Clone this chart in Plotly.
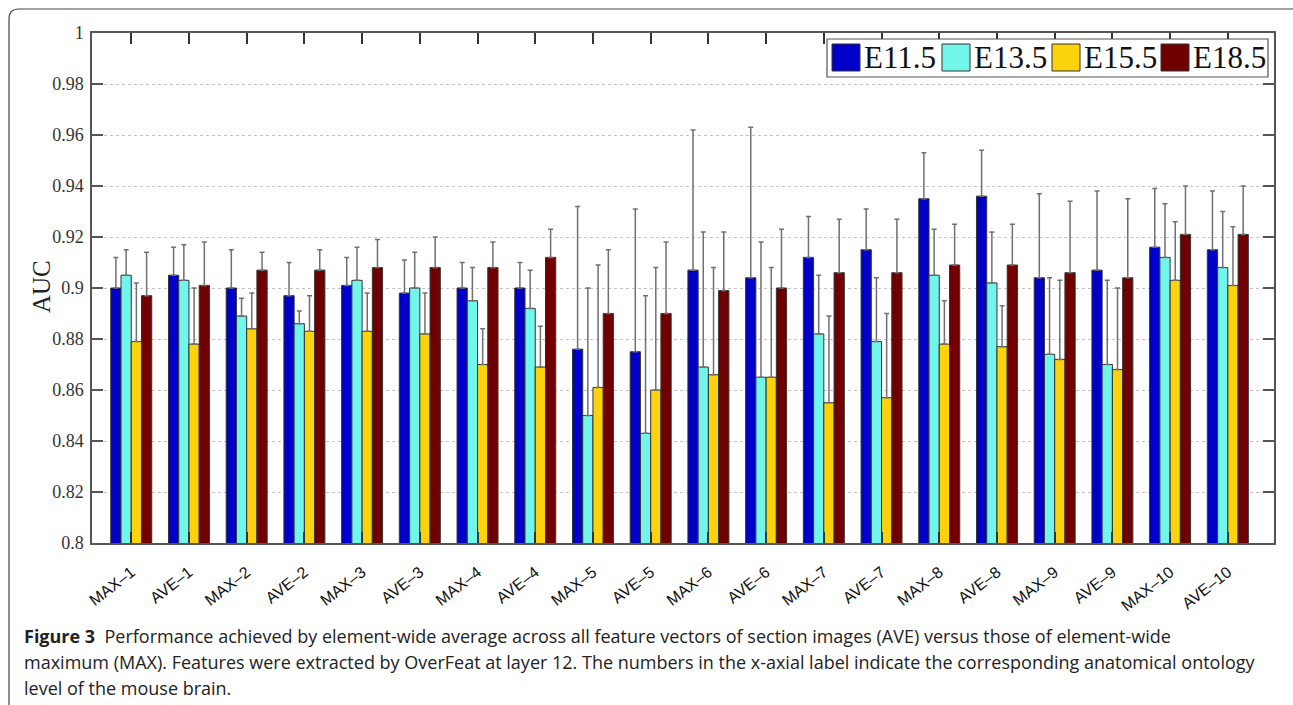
import plotly.graph_objects as go

categories = ["MAX–1", "AVE–1", "MAX–2", "AVE–2", "MAX–3", "AVE–3", "MAX–4", "AVE–4",
              "MAX–5", "AVE–5", "MAX–6", "AVE–6", "MAX–7", "AVE–7", "MAX–8", "AVE–8",
              "MAX–9", "AVE–9", "MAX–10", "AVE–10"]

series_names = ["E11.5", "E13.5", "E15.5", "E18.5"]

auc_e115 = [0.900, 0.905, 0.900, 0.897, 0.901, 0.898, 0.900, 0.900, 0.876, 0.875,
            0.907, 0.904, 0.912, 0.915, 0.935, 0.936, 0.904, 0.907, 0.916, 0.915]
auc_e135 = [0.905, 0.903, 0.889, 0.886, 0.903, 0.900, 0.895, 0.892, 0.850, 0.843,
            0.869, 0.865, 0.882, 0.879, 0.905, 0.902, 0.874, 0.870, 0.912, 0.908]
auc_e155 = [0.879, 0.878, 0.884, 0.883, 0.883, 0.882, 0.870, 0.869, 0.861, 0.860,
            0.866, 0.865, 0.855, 0.857, 0.878, 0.877, 0.872, 0.868, 0.903, 0.901]
auc_e185 = [0.897, 0.901, 0.907, 0.907, 0.908, 0.908, 0.908, 0.912, 0.890, 0.890,
            0.899, 0.900, 0.906, 0.906, 0.909, 0.909, 0.906, 0.904, 0.921, 0.921]

err_e115 = [0.012, 0.011, 0.015, 0.013, 0.011, 0.013, 0.010, 0.010, 0.056, 0.056,
            0.055, 0.059, 0.016, 0.016, 0.018, 0.018, 0.033, 0.031, 0.023, 0.023]
err_e135 = [0.010, 0.014, 0.007, 0.005, 0.013, 0.014, 0.013, 0.015, 0.050, 0.054,
            0.053, 0.053, 0.023, 0.025, 0.018, 0.020, 0.030, 0.033, 0.021, 0.022]
err_e155 = [0.023, 0.022, 0.014, 0.014, 0.015, 0.016, 0.014, 0.016, 0.048, 0.048,
            0.042, 0.043, 0.034, 0.033, 0.017, 0.016, 0.031, 0.032, 0.023, 0.023]
err_e185 = [0.017, 0.017, 0.007, 0.008, 0.011, 0.012, 0.010, 0.011, 0.025, 0.028,
            0.023, 0.023, 0.021, 0.021, 0.016, 0.016, 0.028, 0.031, 0.019, 0.019]

y_tickvals = [0.8, 0.82, 0.84, 0.86, 0.88, 0.9, 0.92, 0.94, 0.96, 0.98, 1.0]
y_ticktext = ["0.8", "0.82", "0.84", "0.86", "0.88", "0.9", "0.92", "0.94", "0.96", "0.98", "1"]

caption_lines = [
    "<b>Figure 3</b>  Performance achieved by element-wide average across all feature vectors of section images (AVE) versus those of element-wide",
    "maximum (MAX). Features were extracted by OverFeat at layer 12. The numbers in the x-axial label indicate the corresponding anatomical ontology",
    "level of the mouse brain.",
]

colors = ["#0000C8", "#72F5EA", "#FCD20C", "#700000"]
values = [auc_e115, auc_e135, auc_e155, auc_e185]
errors = [err_e115, err_e135, err_e155, err_e185]

W, H = 1293, 705
L, R, T, B = 92, 19, 33, 162
PW, PH = W - L - R, H - T - B


def px(xp):
    return (xp - L) / PW


def py(yp):
    return (H - B - yp) / PH


fig = go.Figure()
for name, vals, errs, col in zip(series_names, values, errors, colors):
    fig.add_trace(go.Bar(
        x=categories, y=vals, name=name,
        marker=dict(color=col, line=dict(color="#333333", width=1)),
        error_y=dict(type="data", symmetric=False, array=errs,
                     arrayminus=[0] * len(errs), color="#707070",
                     thickness=1.5, width=2.5),
        showlegend=False,
    ))

shapes = []
annotations = []

# outer figure frame with rounded corner
r = 10
path = (f"M {px(9)},{py(720)} L {px(9)},{py(9 + r)} "
        f"Q {px(9)},{py(9)} {px(9 + r)},{py(9)} L {px(1300)},{py(9)}")
shapes.append(dict(type="path", xref="paper", yref="paper", path=path,
                   line=dict(color="#444444", width=1.2)))

# custom legend
shapes.append(dict(type="rect", xref="paper", yref="paper",
                   x0=px(827), x1=px(1268), y0=py(77), y1=py(39),
                   fillcolor="white", line=dict(color="#555555", width=1.2)))
sw_left = [832, 942, 1052, 1161]
for i, (name, col) in enumerate(zip(series_names, colors)):
    x0 = sw_left[i]
    shapes.append(dict(type="rect", xref="paper", yref="paper",
                       x0=px(x0), x1=px(x0 + 28), y0=py(71), y1=py(44),
                       fillcolor=col, line=dict(color="#333333", width=1)))
    annotations.append(dict(xref="paper", yref="paper", x=px(x0 + 30), y=py(57.5),
                            text=name, showarrow=False, xanchor="left", yanchor="middle",
                            font=dict(family="Liberation Serif", size=31, color="#111111")))

# y axis title
annotations.append(dict(xref="paper", yref="paper", x=px(41), y=py(287), text="AUC",
                        textangle=-90, showarrow=False, xanchor="center", yanchor="middle",
                        font=dict(family="Liberation Serif", size=25, color="#222222")))

# caption
for i, line in enumerate(caption_lines):
    annotations.append(dict(xref="paper", yref="paper", x=px(22), y=py(636 + 26 * i),
                            text=line, showarrow=False, xanchor="left", yanchor="middle",
                            align="left",
                            font=dict(family="Open Sans", size=18, color="#222222")))

fig.update_layout(
    width=W, height=H,
    margin=dict(l=L, r=R, t=T, b=B, pad=0),
    paper_bgcolor="white", plot_bgcolor="white",
    barmode="group", bargap=0.29, bargroupgap=0,
    shapes=shapes, annotations=annotations,
    xaxis=dict(
        range=[-0.68, 19.8], showline=True, linecolor="#555555", linewidth=1.5,
        mirror="ticks", ticks="inside", ticklen=11, tickcolor="#333333", tickwidth=1.5,
        showgrid=False, tickangle=-38, ticklabelstandoff=12,
        tickfont=dict(family="Liberation Sans", size=16, color="#111111"),
    ),
    yaxis=dict(
        range=[0.8, 1.0], tickvals=y_tickvals, ticktext=y_ticktext,
        showline=True, linecolor="#555555", linewidth=1.5,
        mirror="ticks", ticks="inside", ticklen=11, tickcolor="#555555", tickwidth=1.5,
        showgrid=True, gridcolor="#C4C4C4", griddash="dot", gridwidth=1,
        zeroline=False, ticklabelstandoff=3,
        tickfont=dict(family="Liberation Serif", size=18, color="#333333"),
    ),
)

fig.write_html("out.html", config={"displayModeBar": False},
               post_script="document.body.style.margin='0';document.body.style.overflow='hidden';")
